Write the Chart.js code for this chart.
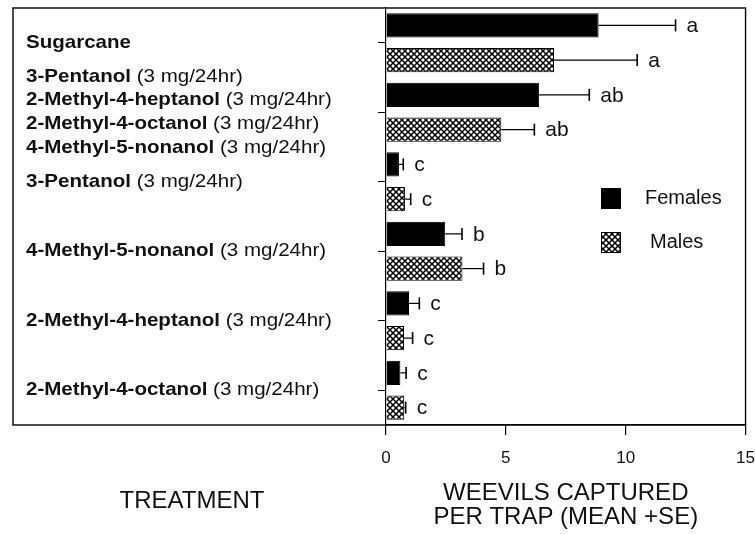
<!DOCTYPE html>
<html><head><meta charset="utf-8">
<script src="https://cdn.jsdelivr.net/npm/chart.js@4/dist/chart.umd.min.js"></script>
<style>html,body{margin:0;padding:0;background:#fff;} canvas{display:block;}</style>
</head><body>
<canvas id="c" width="755" height="534"></canvas>
<script>
// ---- data ----
const categories = [
  ['Sugarcane'],
  ['3-Pentanol', '2-Methyl-4-heptanol', '2-Methyl-4-octanol', '4-Methyl-5-nonanol'],
  ['3-Pentanol'],
  ['4-Methyl-5-nonanol'],
  ['2-Methyl-4-heptanol'],
  ['2-Methyl-4-octanol']
];
const doses = ['', '(3 mg/24hr)', '(3 mg/24hr)', '(3 mg/24hr)', '(3 mg/24hr)', '(3 mg/24hr)'];
const seriesNames = ['Females', 'Males'];
const femaleMeans = [8.87, 6.39, 0.54, 2.47, 0.96, 0.60];
const femaleSE    = [3.21, 2.09, 0.18, 0.70, 0.43, 0.24];
const maleMeans   = [7.01, 4.81, 0.79, 3.19, 0.75, 0.76];
const maleSE      = [3.47, 1.38, 0.24, 0.88, 0.36, 0.06];
const femaleLetters = ['a', 'ab', 'c', 'b', 'c', 'c'];
const maleLetters   = ['a', 'ab', 'c', 'b', 'c', 'c'];
const xTicks = [0, 5, 10, 15];
const xTitle = ['WEEVILS CAPTURED', 'PER TRAP (MEAN +SE)'];
const yTitle = 'TREATMENT';

// ---- styling ----
const FONT = '"Liberation Sans", Arial, Helvetica, sans-serif';
const INK = '#111';

function makePattern() {
  const t = document.createElement('canvas');
  t.width = 6; t.height = 6;
  const g = t.getContext('2d');
  g.fillStyle = '#fff'; g.fillRect(0, 0, 6, 6);
  g.strokeStyle = '#000'; g.lineWidth = 1.5;
  for (const k of [-6, 0, 6]) {
    g.beginPath(); g.moveTo(k, 0); g.lineTo(k + 6, 6); g.stroke();
    g.beginPath(); g.moveTo(k + 6, 0); g.lineTo(k, 6); g.stroke();
  }
  return g.createPattern(t, 'repeat');
}
const ctx0 = document.getElementById('c').getContext('2d');
const hatch = makePattern();

function stretchText(ctx, text, x, y, font, sx) {
  ctx.save();
  ctx.font = font;
  const w = ctx.measureText(text).width * sx;
  ctx.translate(x, y); ctx.scale(sx, 1);
  ctx.fillText(text, 0, 0);
  ctx.restore();
  return w;
}

const decorPlugin = {
  id: 'decor',
  afterDraw(chart) {
    const { ctx, chartArea: a, scales } = chart;
    const ys = scales.y, xs = scales.x;
    ctx.save();
    // outer frame
    ctx.strokeStyle = '#000'; ctx.lineWidth = 1.4;
    ctx.strokeRect(13, a.top, a.right - 13, a.bottom - a.top);

    // category labels
    ctx.fillStyle = INK; ctx.textBaseline = 'middle'; ctx.textAlign = 'left';
    const sx = 1.11, lh = 23.7;
    categories.forEach((lines, i) => {
      const yc = ys.getPixelForValue(i);
      const n = lines.length;
      lines.forEach((name, j) => {
        const y = yc + (j - (n - 1) / 2) * lh;
        let x = 26;
        x += stretchText(ctx, name, x, y, 'bold 18.5px ' + FONT, sx);
        if (doses[i]) stretchText(ctx, ' ' + doses[i], x, y, '18.5px ' + FONT, sx);
      });
    });

    // treatment title
    ctx.textAlign = 'center';
    ctx.font = '24px ' + FONT;
    ctx.fillText(yTitle, 192, 501);

    // error bars and letters
    const se = [femaleSE, maleSE], means = [femaleMeans, maleMeans], letters = [femaleLetters, maleLetters];
    chart.data.datasets.forEach((ds, d) => {
      const meta = chart.getDatasetMeta(d);
      meta.data.forEach((el, i) => {
        const xe = xs.getPixelForValue(means[d][i] + se[d][i]);
        const y = el.y;
        ctx.strokeStyle = '#000';
        ctx.lineWidth = 1.2;
        ctx.beginPath(); ctx.moveTo(el.x, y); ctx.lineTo(xe, y); ctx.stroke();
        ctx.lineWidth = 1.6;
        ctx.beginPath(); ctx.moveTo(xe, y - 6); ctx.lineTo(xe, y + 6); ctx.stroke();
        ctx.fillStyle = INK; ctx.textAlign = 'left'; ctx.textBaseline = 'middle';
        ctx.font = '21px ' + FONT;
        ctx.fillText(letters[d][i], xe + 11, y + 1);
      });
    });

    // legend
    const items = [
      { fill: '#000', box: [601, 188], text: [645, 198] },
      { fill: hatch, box: [601, 232], text: [650, 242] }
    ];
    items.forEach((it, k) => {
      ctx.fillStyle = it.fill;
      ctx.fillRect(it.box[0], it.box[1], 20, 21);
      ctx.strokeStyle = '#000'; ctx.lineWidth = 1;
      ctx.strokeRect(it.box[0] + 0.5, it.box[1] + 0.5, 19, 20);
      ctx.fillStyle = INK; ctx.font = '20px ' + FONT; ctx.textAlign = 'left';
      ctx.fillText(chart.data.datasets[k].label, it.text[0], it.text[1]);
    });
    ctx.restore();
  }
};

new Chart(ctx0, {
  type: 'bar',
  data: {
    labels: categories.map(c => c.join(' + ')),
    datasets: [
      { label: seriesNames[0], data: femaleMeans, backgroundColor: '#000', borderColor: '#000', borderWidth: 1 },
      { label: seriesNames[1], data: maleMeans, backgroundColor: hatch, borderColor: '#000', borderWidth: 1 }
    ]
  },
  options: {
    indexAxis: 'y',
    responsive: false,
    animation: false,
    events: [],
    categoryPercentage: 1.0,
    barPercentage: 0.7,
    layout: { padding: { left: 13, right: 2, top: 8, bottom: 0 } },
    plugins: { legend: { display: false }, tooltip: { enabled: false } },
    scales: {
      y: {
        type: 'category',
        grid: { offset: false, drawOnChartArea: false, tickLength: 8, color: '#000', lineWidth: 1 },
        border: { color: '#000', width: 1.2 },
        ticks: { display: false },
        afterFit: s => { s.width = 373; }
      },
      x: {
        type: 'linear', min: 0, max: 15,
        afterBuildTicks: s => { s.ticks = xTicks.map(v => ({ value: v })); },
        grid: { drawOnChartArea: false, tickLength: 10, color: '#000', lineWidth: 1.2 },
        border: { color: '#000', width: 1.2 },
        ticks: { color: INK, font: { family: FONT, size: 17, lineHeight: 2.7 }, padding: 0 },
        title: { display: true, text: xTitle, color: INK, font: { family: FONT, size: 24, lineHeight: 1.0 }, padding: { top: 0, bottom: 4.5 } },
        afterFit: s => { s.height = 109; }
      }
    }
  },
  plugins: [decorPlugin]
});
</script>
</body></html>
